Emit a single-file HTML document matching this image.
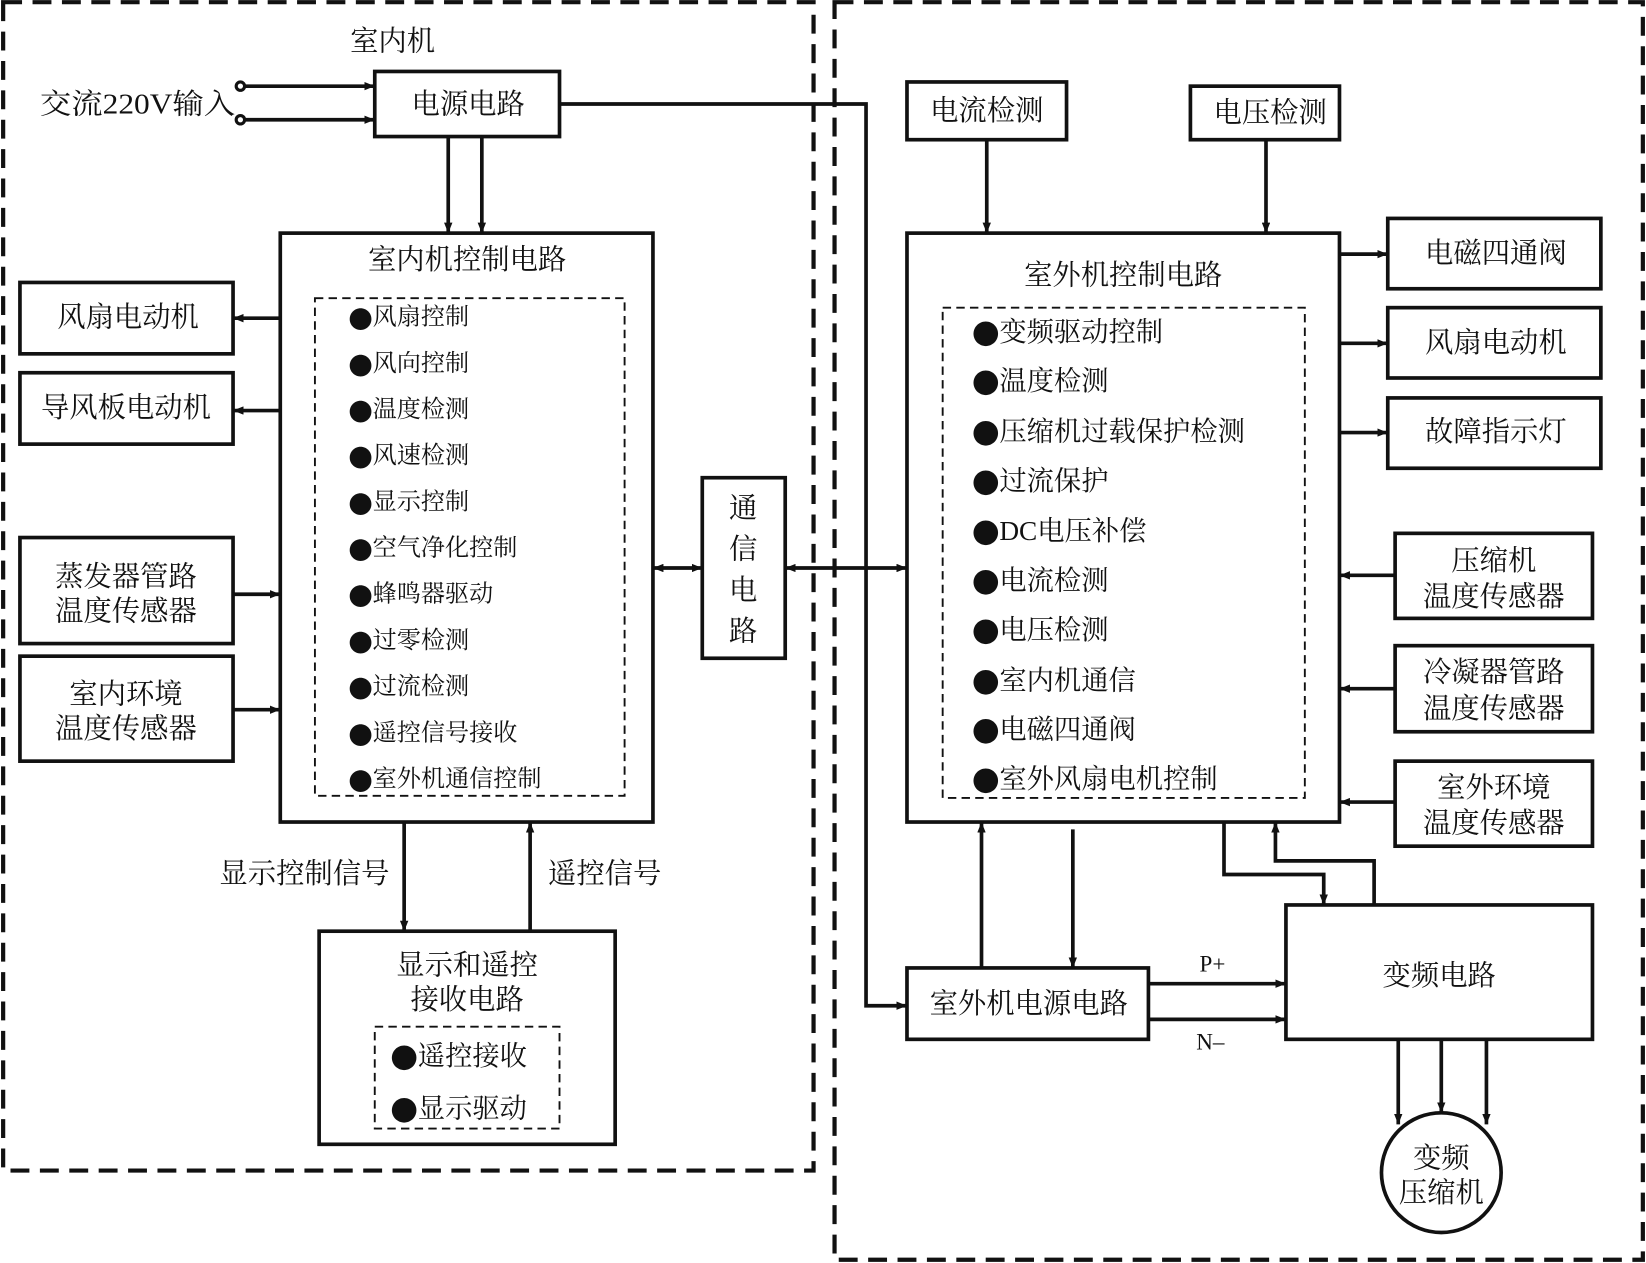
<!DOCTYPE html>
<html><head><meta charset="utf-8"><style>
html,body{margin:0;padding:0;background:#fff;}
svg{display:block;}
text{font-family:"Liberation Serif","Noto Serif CJK SC","Noto Sans CJK SC",serif;fill:#111;}
tspan.b{font-family:"Noto Sans CJK SC",sans-serif;}
</style></head><body>
<svg width="1646" height="1263" viewBox="0 0 1568 1203" xmlns="http://www.w3.org/2000/svg">
<defs>
<marker id="a" markerWidth="10" markerHeight="8" refX="10" refY="4" orient="auto" markerUnits="userSpaceOnUse"><path d="M0,0 L10,4 L0,8 z" fill="#111"/></marker>
<marker id="s" markerWidth="10" markerHeight="8" refX="0" refY="4" orient="auto" markerUnits="userSpaceOnUse"><path d="M10,0 L0,4 L10,8 z" fill="#111"/></marker>
</defs>
<g fill="none" stroke="#111" stroke-width="4" stroke-dasharray="18,10">
<rect x="3" y="2" width="772" height="1113"/>
<rect x="795" y="2" width="770" height="1198"/>
</g>
<g fill="#fff" stroke="#111" stroke-width="3.5">
<rect x="357" y="68" width="176" height="62"/>
<rect x="267" y="222" width="355" height="561"/>
<rect x="19" y="269" width="203" height="68"/>
<rect x="19" y="355" width="203" height="68"/>
<rect x="19" y="512" width="203" height="101"/>
<rect x="19" y="625" width="203" height="100"/>
<rect x="669" y="455" width="79" height="172"/>
<rect x="304" y="887" width="282" height="203"/>
<rect x="864" y="78" width="152" height="55"/>
<rect x="1134" y="82" width="142" height="51"/>
<rect x="864" y="222" width="412" height="561"/>
<rect x="1322" y="208" width="203" height="67"/>
<rect x="1322" y="293" width="203" height="67"/>
<rect x="1322" y="379" width="203" height="67"/>
<rect x="1329" y="508" width="188" height="81"/>
<rect x="1329" y="615" width="188" height="82"/>
<rect x="1329" y="725" width="188" height="81"/>
<rect x="864" y="922" width="230" height="68"/>
<rect x="1225" y="862" width="292" height="128"/>
<circle cx="1373" cy="1117" r="57"/>
</g>
<g fill="none" stroke="#111" stroke-width="1.8" stroke-dasharray="8,5">
<rect x="300" y="284" width="295" height="474"/>
<rect x="357" y="978" width="176" height="97"/>
<rect x="898" y="293" width="345" height="467"/>
</g>
<g fill="none" stroke="#111" stroke-width="3.5">
<line x1="233" y1="82" x2="357" y2="82" marker-end="url(#a)"/>
<line x1="233" y1="114" x2="357" y2="114" marker-end="url(#a)"/>
<polyline points="533,99 825,99 825,958 864,958" marker-end="url(#a)"/>
<line x1="427" y1="130" x2="427" y2="222" marker-end="url(#a)"/>
<line x1="459" y1="130" x2="459" y2="222" marker-end="url(#a)"/>
<line x1="267" y1="303" x2="222" y2="303" marker-end="url(#a)"/>
<line x1="267" y1="391" x2="222" y2="391" marker-end="url(#a)"/>
<line x1="222" y1="566" x2="267" y2="566" marker-end="url(#a)"/>
<line x1="222" y1="676" x2="267" y2="676" marker-end="url(#a)"/>
<line x1="622" y1="541" x2="669" y2="541" marker-end="url(#a)" marker-start="url(#s)"/>
<line x1="748" y1="541" x2="864" y2="541" marker-end="url(#a)" marker-start="url(#s)"/>
<line x1="385" y1="783" x2="385" y2="887" marker-end="url(#a)"/>
<line x1="505" y1="887" x2="505" y2="783" marker-end="url(#a)"/>
<line x1="940" y1="133" x2="940" y2="222" marker-end="url(#a)"/>
<line x1="1206" y1="133" x2="1206" y2="222" marker-end="url(#a)"/>
<line x1="1276" y1="242" x2="1322" y2="242" marker-end="url(#a)"/>
<line x1="1276" y1="327" x2="1322" y2="327" marker-end="url(#a)"/>
<line x1="1276" y1="412" x2="1322" y2="412" marker-end="url(#a)"/>
<line x1="1329" y1="548" x2="1276" y2="548" marker-end="url(#a)"/>
<line x1="1329" y1="656" x2="1276" y2="656" marker-end="url(#a)"/>
<line x1="1329" y1="764" x2="1276" y2="764" marker-end="url(#a)"/>
<line x1="935" y1="922" x2="935" y2="783" marker-end="url(#a)"/>
<line x1="1022" y1="790" x2="1022" y2="922" marker-end="url(#a)"/>
<line x1="1094" y1="937" x2="1225" y2="937" marker-end="url(#a)"/>
<line x1="1094" y1="971" x2="1225" y2="971" marker-end="url(#a)"/>
<polyline points="1166,783 1166,833 1261,833 1261,862" marker-end="url(#a)"/>
<polyline points="1309,862 1309,820 1215,820 1215,783" marker-end="url(#a)"/>
<line x1="1332" y1="990" x2="1332" y2="1071" marker-end="url(#a)"/>
<line x1="1373" y1="990" x2="1373" y2="1060" marker-end="url(#a)"/>
<line x1="1416" y1="990" x2="1416" y2="1071" marker-end="url(#a)"/>
</g>
<g fill="#fff" stroke="#111" stroke-width="3">
<circle cx="229" cy="82" r="4"/><circle cx="229" cy="114" r="4"/>
</g>
<g font-size="27" text-anchor="middle" dominant-baseline="central">
<text x="374" y="40">室内机</text>
<text x="131" y="100" textLength="186" lengthAdjust="spacingAndGlyphs">交流220V输入</text>
<text x="446" y="100">电源电路</text>
<text x="445" y="248">室内机控制电路</text>
<text x="122" y="303">风扇电动机</text>
<text x="120" y="389">导风板电动机</text>
<text x="120" y="550">蒸发器管路</text>
<text x="120" y="583">温度传感器</text>
<text x="120" y="662">室内环境</text>
<text x="120" y="695">温度传感器</text>
<text x="708" y="485">通</text>
<text x="708" y="524">信</text>
<text x="708" y="563">电</text>
<text x="708" y="602">路</text>
<text x="290" y="833">显示控制信号</text>
<text x="576" y="833">遥控信号</text>
<text x="445" y="920">显示和遥控</text>
<text x="445" y="953">接收电路</text>
<text x="940" y="106">电流检测</text>
<text x="1210" y="108">电压检测</text>
<text x="1070" y="263">室外机控制电路</text>
<text x="1425" y="242">电磁四通阀</text>
<text x="1425" y="327">风扇电动机</text>
<text x="1425" y="412">故障指示灯</text>
<text x="1423" y="535">压缩机</text>
<text x="1423" y="569">温度传感器</text>
<text x="1423" y="641">冷凝器管路</text>
<text x="1423" y="676">温度传感器</text>
<text x="1423" y="751">室外环境</text>
<text x="1423" y="785">温度传感器</text>
<text x="980" y="957">室外机电源电路</text>
<text x="1371" y="930">变频电路</text>
<text x="1373" y="1104">变频</text>
<text x="1373" y="1137">压缩机</text>
<text x="1155" y="918" font-size="22">P+</text>
<text x="1153" y="992" font-size="22">N–</text>
</g>
<g font-size="23" dominant-baseline="central">
<text x="332" y="302"><tspan class="b">●</tspan>风扇控制</text>
<text x="332" y="346"><tspan class="b">●</tspan>风向控制</text>
<text x="332" y="390"><tspan class="b">●</tspan>温度检测</text>
<text x="332" y="434"><tspan class="b">●</tspan>风速检测</text>
<text x="332" y="478"><tspan class="b">●</tspan>显示控制</text>
<text x="332" y="522"><tspan class="b">●</tspan>空气净化控制</text>
<text x="332" y="566"><tspan class="b">●</tspan>蜂鸣器驱动</text>
<text x="332" y="610"><tspan class="b">●</tspan>过零检测</text>
<text x="332" y="654"><tspan class="b">●</tspan>过流检测</text>
<text x="332" y="698"><tspan class="b">●</tspan>遥控信号接收</text>
<text x="332" y="742"><tspan class="b">●</tspan>室外机通信控制</text>
</g>
<g font-size="26" dominant-baseline="central">
<text x="372" y="1006"><tspan class="b">●</tspan>遥控接收</text>
<text x="372" y="1056"><tspan class="b">●</tspan>显示驱动</text>
<text x="926" y="316"><tspan class="b">●</tspan>变频驱动控制</text>
<text x="926" y="363"><tspan class="b">●</tspan>温度检测</text>
<text x="926" y="411"><tspan class="b">●</tspan>压缩机过载保护检测</text>
<text x="926" y="458"><tspan class="b">●</tspan>过流保护</text>
<text x="926" y="506"><tspan class="b">●</tspan>DC电压补偿</text>
<text x="926" y="553"><tspan class="b">●</tspan>电流检测</text>
<text x="926" y="600"><tspan class="b">●</tspan>电压检测</text>
<text x="926" y="648"><tspan class="b">●</tspan>室内机通信</text>
<text x="926" y="695"><tspan class="b">●</tspan>电磁四通阀</text>
<text x="926" y="742"><tspan class="b">●</tspan>室外风扇电机控制</text>
</g>
</svg>
</body></html>
